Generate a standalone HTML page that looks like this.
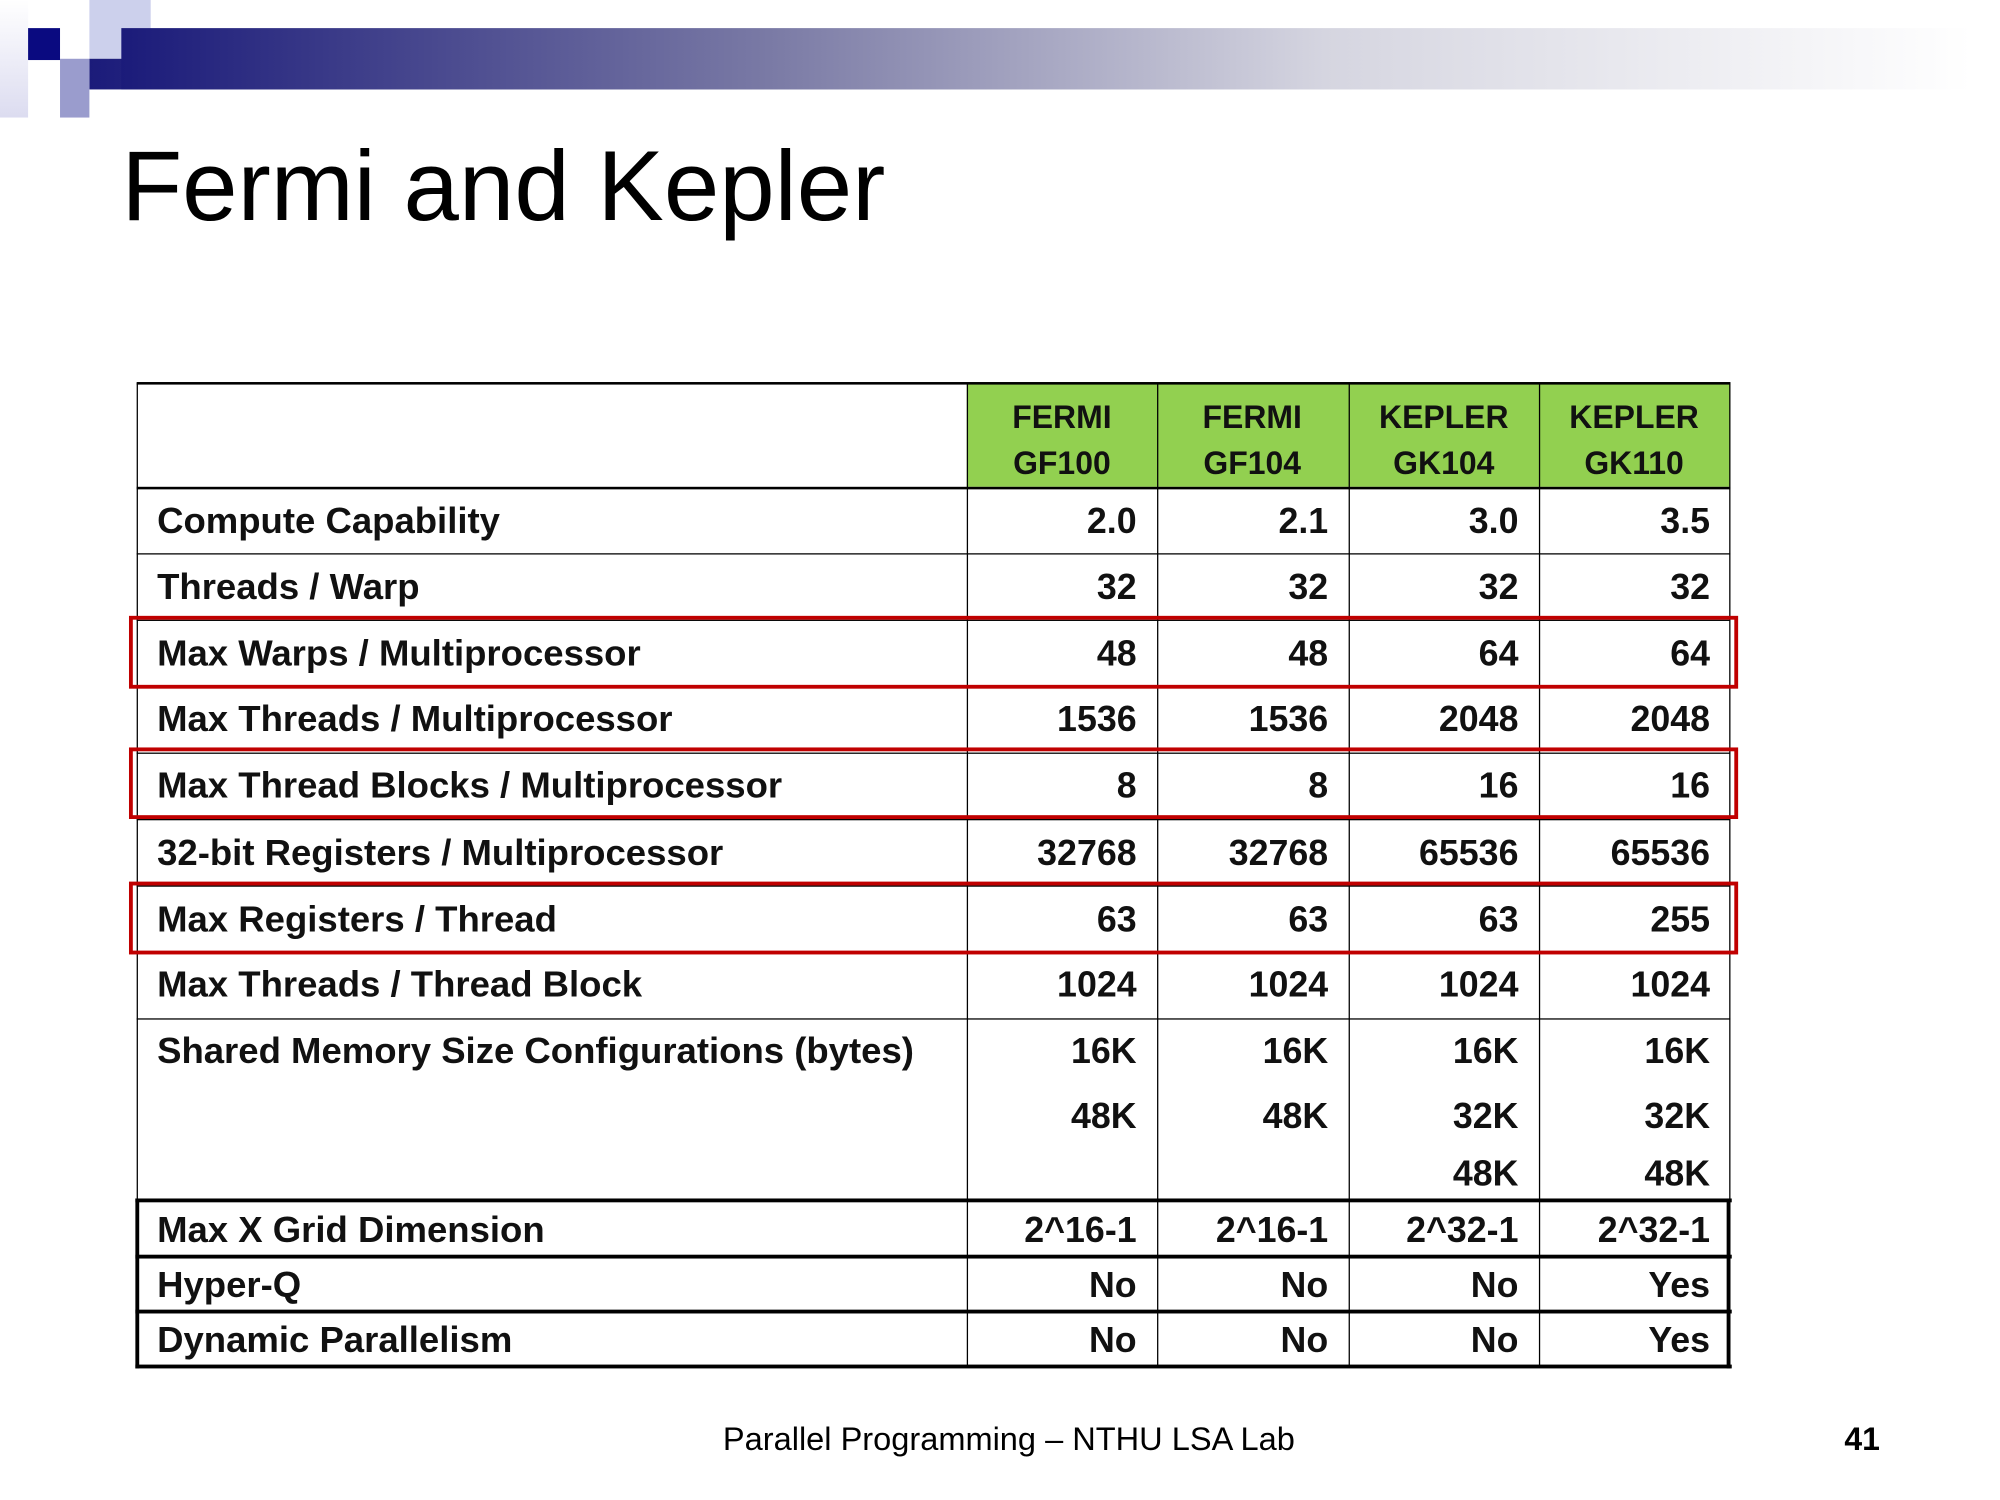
<!DOCTYPE html>
<html><head><meta charset="utf-8"><style>
html,body{margin:0;padding:0;background:#fff;width:2000px;height:1500px;overflow:hidden}
#s{position:absolute;left:0;top:0;width:1566px;height:1174px;transform-origin:0 0;transform:scale(1.2771,1.2777);font-family:"Liberation Sans",sans-serif}
.a{position:absolute}
.t{position:absolute;font-size:28px;font-weight:bold;line-height:30px;white-space:nowrap;color:#111}
.l{left:123px;font-size:28.6px}
.n{text-align:right;width:120px}
.h{text-align:center;width:149px;font-size:25px}
.vl{position:absolute;width:1px;background:#000}
.hl{position:absolute;height:1px;background:#000;left:107px;width:1248px}
.red{position:absolute;left:101px;width:1254px;border:3.5px solid #c00000;box-sizing:content-box}
</style></head><body><div id="s">
<div class="a" style="left:0;top:0;width:22px;height:92px;background:linear-gradient(#fff,#dcdcf0)"></div>
<div class="a" style="left:70px;top:0;width:48px;height:46px;background:#ccd0ec"></div>
<div class="a" style="left:70px;top:46px;width:1474px;height:24px;background:linear-gradient(90deg,#1b1b7a,#7a7aa5 35%,#d5d5e0 65%,#fff)"></div>
<div class="a" style="left:95px;top:22px;width:1449px;height:48px;background:linear-gradient(90deg,#1b1b7a,#7a7aa5 35%,#d5d5e0 65%,#fff)"></div>
<div class="a" style="left:22px;top:22px;width:25px;height:25px;background:#0a0a80"></div>
<div class="a" style="left:47px;top:46px;width:23px;height:46px;background:#9a9ccd"></div>
<div class="a" style="left:95px;top:102px;font-size:78px;line-height:86px;color:#000">Fermi and Kepler</div>

<div class="a" style="left:757px;top:300px;width:598px;height:81px;background:#92d050"></div>
<div class="a" style="left:107px;top:299px;width:1248px;height:2px;background:#000"></div>
<div class="vl" style="left:107px;top:300px;height:770px"></div>
<div class="vl" style="left:757px;top:300px;height:770px"></div>
<div class="vl" style="left:906px;top:300px;height:770px"></div>
<div class="vl" style="left:1056px;top:300px;height:770px"></div>
<div class="vl" style="left:1205px;top:300px;height:770px"></div>
<div class="vl" style="left:1354px;top:300px;height:770px"></div>
<div class="hl" style="top:381px;height:2px"></div>
<div class="hl" style="top:433px"></div>
<div class="hl" style="top:485px"></div>
<div class="hl" style="top:537px"></div>
<div class="hl" style="top:589px"></div>
<div class="hl" style="top:641px"></div>
<div class="hl" style="top:693px"></div>
<div class="hl" style="top:745px"></div>
<div class="hl" style="top:797px"></div>
<div class="a" style="left:106px;top:938px;width:1250px;height:3px;background:#000"></div>
<div class="a" style="left:106px;top:982px;width:1250px;height:3px;background:#000"></div>
<div class="a" style="left:106px;top:1025px;width:1250px;height:3px;background:#000"></div>
<div class="a" style="left:106px;top:1068px;width:1250px;height:3px;background:#000"></div>
<div class="a" style="left:106px;top:938px;width:3px;height:133px;background:#000"></div>
<div class="a" style="left:1352px;top:938px;width:3px;height:133px;background:#000"></div>

<div class="red" style="top:482px;height:51px"></div>
<div class="red" style="top:585px;height:50px"></div>
<div class="red" style="top:690px;height:51px"></div>

<div class="t h" style="left:757px;top:312px">FERMI</div><div class="t h" style="left:757px;top:348px">GF100</div>
<div class="t h" style="left:906px;top:312px">FERMI</div><div class="t h" style="left:906px;top:348px">GF104</div>
<div class="t h" style="left:1056px;top:312px">KEPLER</div><div class="t h" style="left:1056px;top:348px">GK104</div>
<div class="t h" style="left:1205px;top:312px">KEPLER</div><div class="t h" style="left:1205px;top:348px">GK110</div>

<div class="t l" style="top:393px">Compute Capability</div>
<div class="t l" style="top:445px">Threads / Warp</div>
<div class="t l" style="top:497px">Max Warps / Multiprocessor</div>
<div class="t l" style="top:548px">Max Threads / Multiprocessor</div>
<div class="t l" style="top:600px">Max Thread Blocks / Multiprocessor</div>
<div class="t l" style="top:653px">32-bit Registers / Multiprocessor</div>
<div class="t l" style="top:705px">Max Registers / Thread</div>
<div class="t l" style="top:756px">Max Threads / Thread Block</div>
<div class="t l" style="top:808px">Shared Memory Size Configurations (bytes)</div>
<div class="t l" style="top:948px">Max X Grid Dimension</div>
<div class="t l" style="top:991px">Hyper-Q</div>
<div class="t l" style="top:1034px">Dynamic Parallelism</div>

<div class="t n" style="left:770px;top:393px">2.0</div><div class="t n" style="left:920px;top:393px">2.1</div><div class="t n" style="left:1069px;top:393px">3.0</div><div class="t n" style="left:1219px;top:393px">3.5</div>
<div class="t n" style="left:770px;top:445px">32</div><div class="t n" style="left:920px;top:445px">32</div><div class="t n" style="left:1069px;top:445px">32</div><div class="t n" style="left:1219px;top:445px">32</div>
<div class="t n" style="left:770px;top:497px">48</div><div class="t n" style="left:920px;top:497px">48</div><div class="t n" style="left:1069px;top:497px">64</div><div class="t n" style="left:1219px;top:497px">64</div>
<div class="t n" style="left:770px;top:548px">1536</div><div class="t n" style="left:920px;top:548px">1536</div><div class="t n" style="left:1069px;top:548px">2048</div><div class="t n" style="left:1219px;top:548px">2048</div>
<div class="t n" style="left:770px;top:600px">8</div><div class="t n" style="left:920px;top:600px">8</div><div class="t n" style="left:1069px;top:600px">16</div><div class="t n" style="left:1219px;top:600px">16</div>
<div class="t n" style="left:770px;top:653px">32768</div><div class="t n" style="left:920px;top:653px">32768</div><div class="t n" style="left:1069px;top:653px">65536</div><div class="t n" style="left:1219px;top:653px">65536</div>
<div class="t n" style="left:770px;top:705px">63</div><div class="t n" style="left:920px;top:705px">63</div><div class="t n" style="left:1069px;top:705px">63</div><div class="t n" style="left:1219px;top:705px">255</div>
<div class="t n" style="left:770px;top:756px">1024</div><div class="t n" style="left:920px;top:756px">1024</div><div class="t n" style="left:1069px;top:756px">1024</div><div class="t n" style="left:1219px;top:756px">1024</div>
<div class="t n" style="left:770px;top:808px">16K</div><div class="t n" style="left:920px;top:808px">16K</div><div class="t n" style="left:1069px;top:808px">16K</div><div class="t n" style="left:1219px;top:808px">16K</div>
<div class="t n" style="left:770px;top:859px">48K</div><div class="t n" style="left:920px;top:859px">48K</div><div class="t n" style="left:1069px;top:859px">32K</div><div class="t n" style="left:1219px;top:859px">32K</div>
<div class="t n" style="left:1069px;top:904px">48K</div><div class="t n" style="left:1219px;top:904px">48K</div>
<div class="t n" style="left:770px;top:948px">2^16-1</div><div class="t n" style="left:920px;top:948px">2^16-1</div><div class="t n" style="left:1069px;top:948px">2^32-1</div><div class="t n" style="left:1219px;top:948px">2^32-1</div>
<div class="t n" style="left:770px;top:991px">No</div><div class="t n" style="left:920px;top:991px">No</div><div class="t n" style="left:1069px;top:991px">No</div><div class="t n" style="left:1219px;top:991px">Yes</div>
<div class="t n" style="left:770px;top:1034px">No</div><div class="t n" style="left:920px;top:1034px">No</div><div class="t n" style="left:1069px;top:1034px">No</div><div class="t n" style="left:1219px;top:1034px">Yes</div>

<div class="a" style="left:440px;width:700px;top:1112px;text-align:center;font-size:25.5px;line-height:30px;color:#000">Parallel Programming – NTHU LSA Lab</div>
<div class="a" style="left:1420px;width:52px;top:1112px;text-align:right;font-size:25px;font-weight:bold;line-height:30px;color:#000">41</div>
</div></body></html>
